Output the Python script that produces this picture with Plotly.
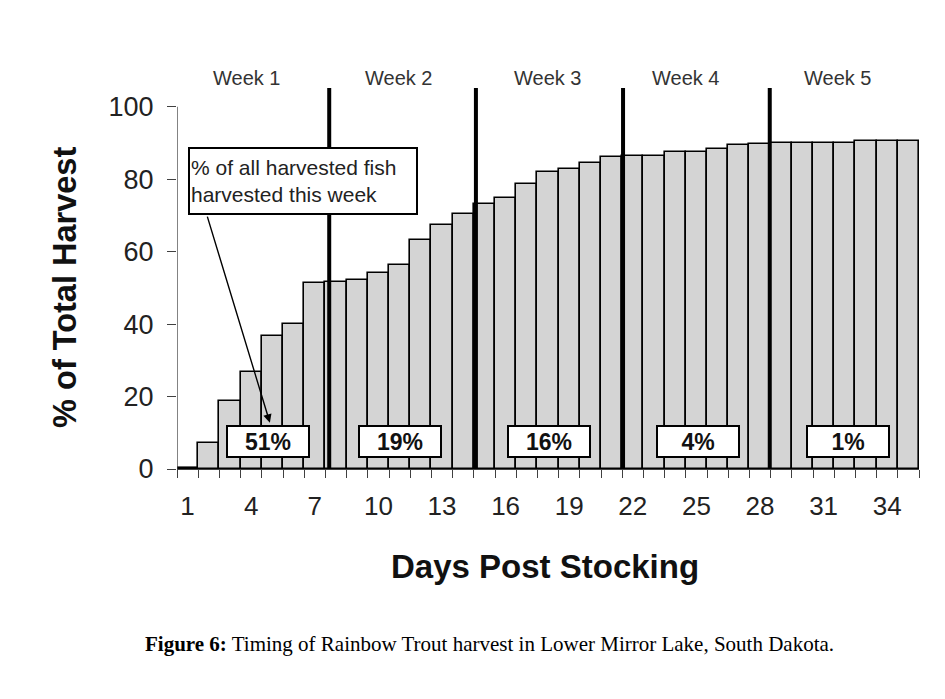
import plotly.graph_objects as go

# ---- data ----
days = list(range(1, 36))
cum_harvest = [0.4, 7.2, 18.9, 26.9, 36.8, 40.0, 51.3, 51.7, 52.1, 54.1,
               56.2, 63.2, 67.4, 70.5, 73.1, 74.7, 78.6, 82.1, 82.7, 84.6,
               86.2, 86.5, 86.4, 87.6, 87.5, 88.3, 89.4, 89.7, 90.1, 90.0,
               90.0, 90.0, 90.5, 90.5, 90.5]
x_tick_vals = [1, 4, 7, 10, 13, 16, 19, 22, 25, 28, 31, 34]
y_tick_vals = [0, 20, 40, 60, 80, 100]
week_labels = ["Week 1", "Week 2", "Week 3", "Week 4", "Week 5"]
week_label_x = [3.8, 10.97, 17.99, 24.5, 31.66]
week_boundaries = [7.68, 14.6, 21.54, 28.46]
week_pct_labels = ["51%", "19%", "16%", "4%", "1%"]
week_pct_x = [4.77, 11.04, 18.07, 25.07, 32.16]

W, H = 945, 699
L, R, T, B = 177, 919.3, 88, 469.3
YMAX = 105.2

fig = go.Figure()
fig.add_trace(go.Bar(
    x=days, y=cum_harvest,
    marker=dict(color="#d4d4d4", line=dict(color="#000000", width=1.6)),
    width=1.0,
))

shapes = []
for xb in week_boundaries:
    shapes.append(dict(type="line", xref="x", yref="y", x0=xb, x1=xb, y0=0, y1=YMAX,
                       line=dict(color="#000000", width=4)))
# y axis line (only to 100)
shapes.append(dict(type="line", xref="x", yref="y", x0=0.5, x1=0.5, y0=0, y1=100,
                   line=dict(color="#404040", width=1.3)))

ph = B - T
pw = R - L
def px_x(px):
    return (px - L) / pw
def px_y(py):
    return (B - py) / ph

ann = []
for lab, xv in zip(week_labels, week_label_x):
    ann.append(dict(x=xv, y=px_y(78), xref="x", yref="paper", text=lab, showarrow=False,
                    xanchor="center", yanchor="middle",
                    font=dict(family="Liberation Sans, Arial", size=20, color="#333333")))
for lab, xv in zip(week_pct_labels, week_pct_x):
    ann.append(dict(x=xv, y=7.7, xref="x", yref="y", text="<b>" + lab + "</b>",
                    showarrow=False, width=80, height=29, borderpad=0,
                    bgcolor="#ffffff", bordercolor="#000000", borderwidth=2,
                    font=dict(family="Liberation Sans, Arial", size=23, color="#111111")))
# arrow
ann.append(dict(x=4.88, y=12.8, xref="x", yref="y", ax=1.91, ay=70.1, axref="x", ayref="y",
                text="", showarrow=True, arrowhead=2, arrowsize=1.2, arrowwidth=1.4,
                arrowcolor="#000000"))
# callout box
ann.append(dict(x=6.46, y=79.5, xref="x", yref="y",
                text="% of all harvested fish<br>harvested this week",
                showarrow=False, align="left", width=224, height=62, borderpad=1,
                bgcolor="#ffffff", bordercolor="#000000", borderwidth=2,
                font=dict(family="Liberation Sans, Arial", size=21, color="#222222")))

# axis titles
ann.append(dict(x=px_x(545), y=px_y(567), xref="paper", yref="paper",
                xanchor="center", yanchor="middle",
                text="<b>Days Post Stocking</b>", showarrow=False,
                font=dict(family="Liberation Sans, Arial", size=33, color="#111111")))
ann.append(dict(x=px_x(65), y=px_y(288), xref="paper", yref="paper",
                xanchor="center", yanchor="middle",
                text="<b>% of Total Harvest</b>", showarrow=False, textangle=-90,
                font=dict(family="Liberation Sans, Arial", size=32.5, color="#111111")))
# caption
ann.append(dict(x=px_x(490), y=px_y(644), xref="paper", yref="paper",
                xanchor="center", yanchor="middle",
                text="<b>Figure 6:</b> Timing of Rainbow Trout harvest in Lower Mirror Lake, South Dakota.",
                showarrow=False,
                font=dict(family="Liberation Serif, Times New Roman", size=21, color="#000000")))

fig.update_layout(
    width=W, height=H,
    margin=dict(l=L, r=W - R, t=T, b=H - B, pad=0),
    paper_bgcolor="#ffffff", plot_bgcolor="#ffffff",
    showlegend=False, bargap=0,
    shapes=shapes, annotations=ann,
    xaxis=dict(range=[0.5, 35.5], tickvals=x_tick_vals, ticktext=[str(v) for v in x_tick_vals],
               ticks="", showgrid=False, zeroline=False,
               showline=True, linecolor="#404040", linewidth=1.3,
               minor=dict(ticks="outside", tick0=0.5, dtick=1, ticklen=8,
                          tickcolor="#404040", tickwidth=1.2, showgrid=False),
               tickfont=dict(family="Liberation Sans, Arial", size=26, color="#222222"),
               ticklabelstandoff=14),
    yaxis=dict(range=[0, YMAX], tickvals=y_tick_vals, ticks="outside", ticklen=9,
               tickcolor="#404040", tickwidth=1.2, showgrid=False, zeroline=False,
               showline=False,
               tickfont=dict(family="Liberation Sans, Arial", size=27, color="#222222"),
               ticklabelstandoff=8),
)

fig.write_html("out.html", post_script="document.body.style.margin='0px';",
               config={"displayModeBar": False})
